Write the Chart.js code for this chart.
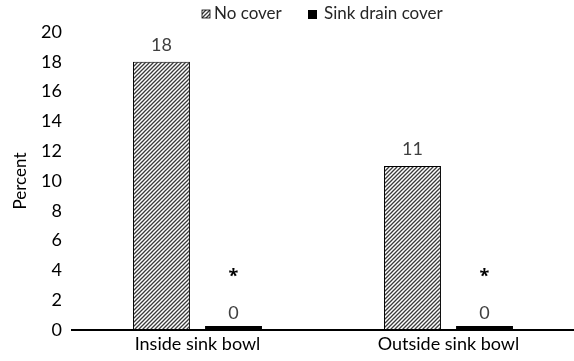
<!DOCTYPE html>
<html>
<head>
<meta charset="utf-8">
<script src="https://cdn.jsdelivr.net/npm/chart.js@4/dist/chart.umd.min.js"></script>
<style>
  html, body { margin: 0; padding: 0; background: #fff; }
  #wrap { width: 574px; height: 361px; }
</style>
</head>
<body>
<div id="wrap"><canvas id="c" width="574" height="361"></canvas></div>
<script>
const categories = ['Inside sink bowl', 'Outside sink bowl'];
const seriesNames = ['No cover', 'Sink drain cover'];
const noCover = [18, 11];
const sinkDrainCover = [0, 0];
const significance = ['*', '*'];
const yTicks = [0, 2, 4, 6, 8, 10, 12, 14, 16, 18, 20];

const FONT = 'Lato, "Open Sans", sans-serif';

function makeHatch() {
  const s = 4;
  const c = document.createElement('canvas');
  c.width = s; c.height = s;
  const x = c.getContext('2d');
  x.fillStyle = '#ffffff';
  x.fillRect(0, 0, s, s);
  x.strokeStyle = '#3a3a3a';
  x.lineWidth = 1.3;
  x.beginPath();
  x.moveTo(0, s); x.lineTo(s, 0);
  x.moveTo(-1, 1); x.lineTo(1, -1);
  x.moveTo(s - 1, s + 1); x.lineTo(s + 1, s - 1);
  x.stroke();
  return x.createPattern(c, 'repeat');
}
const hatch = makeHatch();

const labelPlugin = {
  id: 'valueLabels',
  afterDatasetsDraw(chart) {
    const ctx = chart.ctx;
    ctx.save();
    ctx.textAlign = 'center';
    ctx.textBaseline = 'middle';
    chart.data.datasets.forEach((ds, di) => {
      const meta = chart.getDatasetMeta(di);
      meta.data.forEach((bar, i) => {
        const v = ds.data[i];
        const top = chart.scales.y.getPixelForValue(v);
        ctx.font = '18px ' + FONT;
        ctx.fillStyle = '#404040';
        ctx.fillText(String(v), bar.x, top - 17);
        if (di === 1) {
          ctx.font = 'bold 18px "Open Sans", sans-serif';
          ctx.fillStyle = '#000';
          ctx.fillText(significance[i], bar.x, top - 53);
        }
      });
    });
    ctx.restore();
  }
};

const legendPlugin = {
  id: 'customLegend',
  afterDraw(chart) {
    const ctx = chart.ctx;
    ctx.save();
    ctx.font = '17px ' + FONT;
    ctx.textBaseline = 'middle';
    const y = 14;
    ctx.fillStyle = hatch;
    ctx.fillRect(202, y - 4, 8, 8);
    ctx.strokeStyle = '#000';
    ctx.lineWidth = 0.8;
    ctx.strokeRect(202, y - 4, 8, 8);
    ctx.fillStyle = '#262626';
    ctx.textAlign = 'left';
    ctx.fillText(seriesNames[0], 214, y);
    ctx.fillStyle = '#000';
    ctx.fillRect(308, y - 4, 9, 9);
    ctx.fillStyle = '#262626';
    ctx.fillText(seriesNames[1], 324, y);
    ctx.restore();
  }
};

new Chart(document.getElementById('c'), {
  type: 'bar',
  data: {
    labels: categories,
    datasets: [
      {
        label: seriesNames[0],
        data: noCover,
        backgroundColor: hatch,
        borderColor: '#000',
        borderWidth: 1,
        borderSkipped: false
      },
      {
        label: seriesNames[1],
        data: sinkDrainCover,
        backgroundColor: '#000',
        borderColor: '#000',
        borderWidth: 0,
        minBarLength: 4
      }
    ]
  },
  options: {
    responsive: false,
    animation: false,
    devicePixelRatio: 1,
    categoryPercentage: 0.574,
    barPercentage: 0.79,
    layout: { padding: { top: 32, left: 0, right: 0, bottom: 0 } },
    plugins: {
      legend: { display: false },
      tooltip: { enabled: false }
    },
    scales: {
      x: {
        grid: { display: false, drawTicks: false },
        border: { display: true, color: '#000', width: 2 },
        ticks: { color: '#000', font: { family: FONT, size: 18 }, padding: 3 },
        afterFit(s) { s.height = 31; }
      },
      y: {
        min: 0,
        max: 20,
        afterBuildTicks(s) { s.ticks = yTicks.map(v => ({ value: v })); },
        grid: { display: false, drawTicks: false },
        border: { display: false },
        ticks: { color: '#000', font: { family: FONT, size: 18 }, padding: 10 },
        title: { display: true, text: 'Percent', color: '#000', font: { family: FONT, size: 17 }, padding: { top: 10, bottom: 0 } },
        afterFit(s) { s.width = 72; }
      }
    }
  },
  plugins: [labelPlugin, legendPlugin]
});
</script>
</body>
</html>
